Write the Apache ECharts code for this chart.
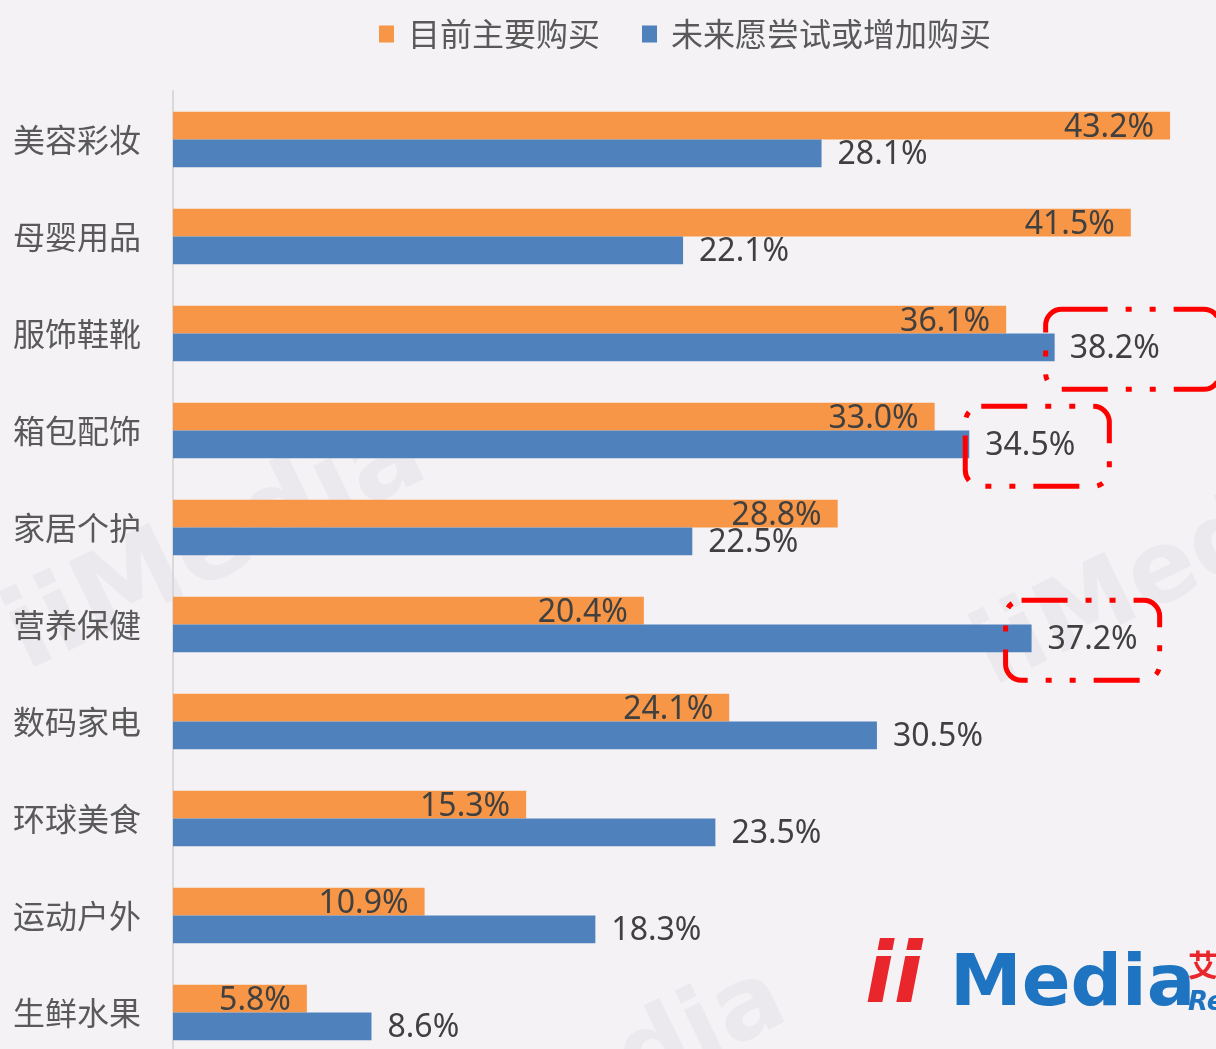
<!DOCTYPE html>
<html>
<head>
<meta charset="utf-8">
<script src="https://cdn.jsdelivr.net/npm/echarts@6/dist/echarts.min.js"></script>
<style>
  html, body { margin: 0; padding: 0; background: #f4f2f5; }
  #chart { width: 1216px; height: 1049px; }
</style>
</head>
<body>
<div id="chart"></div>
<script>
const categories = ["美容彩妆", "母婴用品", "服饰鞋靴", "箱包配饰", "家居个护", "营养保健", "数码家电", "环球美食", "运动户外", "生鲜水果"];
const currentBuy = [43.2, 41.5, 36.1, 33.0, 28.8, 20.4, 24.1, 15.3, 10.9, 5.8];
const futureBuy = [28.1, 22.1, 38.2, 34.5, 22.5, 37.2, 30.5, 23.5, 18.3, 8.6];
const seriesNames = ["目前主要购买", "未来愿尝试或增加购买"];
const highlighted = ["服饰鞋靴", "箱包配饰", "营养保健"];

const font = "'Noto Sans', 'Noto Sans CJK SC', sans-serif";
const cjk = "'Noto Sans CJK SC', sans-serif";

// 红色虚线框的样式，按条目微调
const boxStyle = {
  "服饰鞋靴": { distance: -9, padding: [24, 60, 24, 24] },
  "箱包配饰": { distance: -4, padding: [24, 34, 24, 20] },
  "营养保健": { distance: -26, padding: [24, 22, 24, 42] }
};

const futureData = futureBuy.map((v, i) => {
  const name = categories[i];
  if (highlighted.indexOf(name) < 0) return v;
  const s = boxStyle[name];
  return {
    value: v,
    label: {
      distance: s.distance,
      padding: s.padding,
      borderColor: "#ff0000",
      borderWidth: 5,
      borderRadius: 16,
      borderType: [46, 18, 6, 18, 6, 18]
    }
  };
});

const chart = echarts.init(document.getElementById("chart"));
const option = {
  backgroundColor: "#f4f2f5",
  animation: false,
  legend: {
    left: 374,
    top: 13,
    itemWidth: 15,
    itemHeight: 17,
    itemGap: 42,
    icon: "rect",
    textStyle: {
      fontFamily: cjk,
      fontSize: 32,
      color: "#595959",
      padding: [0, 0, 0, 9]
    },
    data: seriesNames
  },
  grid: {
    left: 173,
    top: 91,
    width: 1038.6,
    height: 970,
    outerBoundsMode: "none"
  },
  xAxis: {
    type: "value",
    min: 0,
    max: 45,
    show: false
  },
  yAxis: {
    type: "category",
    inverse: true,
    data: categories,
    axisLine: { show: true, lineStyle: { color: "#d9d9d9", width: 2 } },
    axisTick: { show: false },
    axisLabel: {
      margin: 32,
      fontFamily: cjk,
      fontSize: 32,
      color: "#595959"
    }
  },
  series: [
    {
      name: seriesNames[0],
      type: "bar",
      data: currentBuy,
      barGap: "0%",
      barCategoryGap: "43%",
      itemStyle: { color: "#f79646" },
      label: {
        show: true,
        position: "insideRight",
        distance: 16,
        offset: [0, 2],
        fontFamily: font,
        fontSize: 32,
        color: "#404040",
        formatter: p => p.value.toFixed(1) + "%"
      }
    },
    {
      name: seriesNames[1],
      type: "bar",
      data: futureData,
      itemStyle: { color: "#4f81bd" },
      label: {
        show: true,
        position: "right",
        distance: 16,
        offset: [0, 2],
        fontFamily: font,
        fontSize: 32,
        color: "#404040",
        formatter: p => p.value.toFixed(1) + "%"
      }
    }
  ],
  graphic: [
    {
      type: "text",
      left: -10,
      top: 400,
      rotation: 0.45,
      silent: true,
      z: -1,
      style: { text: "iiMedia", font: "bold 110px 'DejaVu Sans'", fill: "rgba(200,200,205,0.2)" }
    },
    {
      type: "text",
      left: 960,
      top: 440,
      rotation: 0.45,
      silent: true,
      z: -1,
      style: { text: "iiMedia", font: "bold 100px 'DejaVu Sans'", fill: "rgba(200,200,205,0.2)" }
    },
    {
      type: "text",
      left: 390,
      top: 950,
      rotation: 0.45,
      silent: true,
      z: -1,
      style: { text: "iiMedia", font: "bold 100px 'DejaVu Sans'", fill: "rgba(200,200,205,0.2)" }
    },
    {
      type: "text",
      left: 865,
      top: 938,
      silent: true,
      style: { text: "ii", font: "italic bold 84px 'DejaVu Sans'", fill: "#e8262b" }
    },
    {
      type: "text",
      left: 950,
      top: 950,
      silent: true,
      style: { text: "Media", font: "bold 72px 'DejaVu Sans'", fill: "#1f74c2" }
    },
    {
      type: "text",
      left: 1188,
      top: 950,
      silent: true,
      style: { text: "艾", font: "bold 30px 'Noto Sans CJK SC'", fill: "#e8262b" }
    },
    {
      type: "text",
      left: 1188,
      top: 990,
      silent: true,
      style: { text: "Re", font: "bold italic 26px 'DejaVu Sans'", fill: "#1f74c2" }
    }
  ]
};
chart.setOption(option);
window.addEventListener("resize", () => {
  chart.resize();
});
</script>
</body>
</html>
